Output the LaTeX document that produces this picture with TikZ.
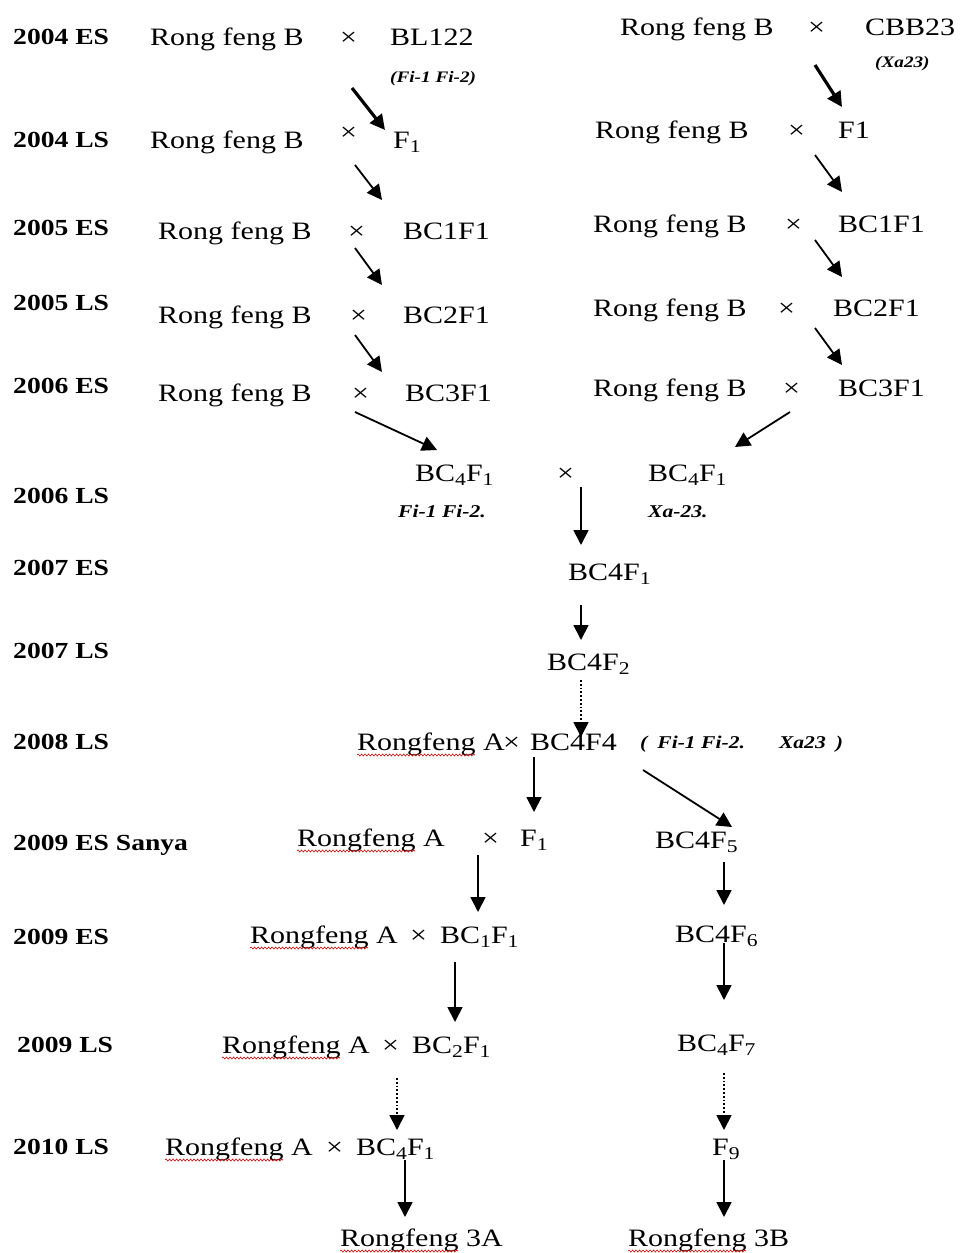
\documentclass[tikz,border=0pt]{standalone}
\usepackage{fontspec}
\setmainfont{Liberation Serif}[FakeStretch=1.2]
\usetikzlibrary{arrows.meta,positioning,decorations.pathmorphing}

\newcommand{\subn}[1]{\raisebox{-0.35ex}{\fontsize{18}{18}\selectfont #1}}

\tikzset{
  yr/.style={font=\fontsize{23}{23}\selectfont\bfseries},
  txt/.style={font=\fontsize{25}{25}\selectfont},
  note/.style={font=\fontsize{16}{16}\selectfont\bfseries\itshape},
  arr/.style={-{Triangle[length=15pt,width=15pt]},line width=1.8pt},
  thk/.style={arr,line width=3.2pt},
  dotarr/.style={arr,dotted,line width=1.8pt},
  wavy/.style={draw=red!80!black,line width=0.6pt,decorate,
    decoration={snake,amplitude=1pt,segment length=3.5pt}}
}

\begin{document}
\begin{tikzpicture}
  [x=1pt,y=-1pt,every node/.style={inner sep=0pt,anchor=base west}]
  \useasboundingbox (0,0) rectangle (977,1253);

  % seasons
  \node[yr] (s1)  at (13,44)   {2004 ES};
  \node[yr] (s2)  at (13,147)  {2004 LS};
  \node[yr] (s3)  at (13,235)  {2005 ES};
  \node[yr] (s4)  at (13,310)  {2005 LS};
  \node[yr] (s5)  at (13,393)  {2006 ES};
  \node[yr] (s6)  at (13,503)  {2006 LS};
  \node[yr] (s7)  at (13,575)  {2007 ES};
  \node[yr] (s8)  at (13,658)  {2007 LS};
  \node[yr] (s9)  at (13,749)  {2008 LS};
  \node[yr] (s10) at (13,850)  {2009 ES Sanya};
  \node[yr] (s11) at (13,944)  {2009 ES};
  \node[yr] (s12) at (17,1052) {2009 LS};
  \node[yr] (s13) at (13,1154) {2010 LS};

  % left backcross line (BL122)
  \node[txt] (l1p) at (150,45)  {Rong feng B};
  \node[txt] (l1x) at (340,45)  {×};
  \node[txt] (l1m) at (390,45)  {BL122};
  \node[note] (l1n) at (390,82) {(Fi-1 Fi-2)};
  \node[txt] (l2p) at (150,148) {Rong feng B};
  \node[txt] (l2x) at (340,140) {×};
  \node[txt] (l2m) at (393,148) {F\subn{1}};
  \node[txt] (l3p) at (158,239) {Rong feng B};
  \node[txt] (l3x) at (348,239) {×};
  \node[txt] (l3m) at (403,239) {BC1F1};
  \node[txt] (l4p) at (158,323) {Rong feng B};
  \node[txt] (l4x) at (350,323) {×};
  \node[txt] (l4m) at (403,323) {BC2F1};
  \node[txt] (l5p) at (158,401) {Rong feng B};
  \node[txt] (l5x) at (352,401) {×};
  \node[txt] (l5m) at (405,401) {BC3F1};

  % right backcross line (CBB23)
  \node[txt] (r1p) at (620,35)  {Rong feng B};
  \node[txt] (r1x) at (808,35)  {×};
  \node[txt] (r1m) at (865,35)  {CBB23};
  \node[note] (r1n) at (875,67) {(Xa23)};
  \node[txt] (r2p) at (595,138) {Rong feng B};
  \node[txt] (r2x) at (788,138) {×};
  \node[txt] (r2m) at (838,138) {F1};
  \node[txt] (r3p) at (593,232) {Rong feng B};
  \node[txt] (r3x) at (785,232) {×};
  \node[txt] (r3m) at (838,232) {BC1F1};
  \node[txt] (r4p) at (593,316) {Rong feng B};
  \node[txt] (r4x) at (778,316) {×};
  \node[txt] (r4m) at (833,316) {BC2F1};
  \node[txt] (r5p) at (593,396) {Rong feng B};
  \node[txt] (r5x) at (783,396) {×};
  \node[txt] (r5m) at (838,396) {BC3F1};

  % pyramiding
  \node[txt] (c1)  at (415,481) {BC\subn{4}F\subn{1}};
  \node[note,font=\fontsize{18}{18}\selectfont\bfseries\itshape] (c1n) at (398,517) {Fi-1 Fi-2.};
  \node[txt] (cx)  at (557,481) {×};
  \node[txt] (c2)  at (648,481) {BC\subn{4}F\subn{1}};
  \node[note,font=\fontsize{18}{18}\selectfont\bfseries\itshape] (c2n) at (648,517) {Xa-23.};
  \node[txt] (p1)  at (568,580) {BC4F\subn{1}};
  \node[txt] (p2)  at (547,670) {BC4F\subn{2}};

  % 2008 cross and later
  \node[txt] (a1)  at (357,750) {Rongfeng A};
  \node[txt] (a1x) at (503,750) {×};
  \node[txt] (a1m) at (530,750) {BC4F4};
  \node[note,font=\fontsize{18}{18}\selectfont\bfseries\itshape] (a1n) at (640,748)
    {(\hspace{10pt}Fi-1 Fi-2.\hspace{34pt}Xa23\hspace{10pt})};
  \node[txt] (a2)  at (297,846) {Rongfeng A};
  \node[txt] (a2x) at (482,846) {×};
  \node[txt] (a2m) at (520,846) {F\subn{1}};
  \node[txt] (a3)  at (250,943) {Rongfeng A};
  \node[txt] (a3x) at (410,943) {×};
  \node[txt] (a3m) at (440,943) {BC\subn{1}F\subn{1}};
  \node[txt] (a4)  at (222,1053) {Rongfeng A};
  \node[txt] (a4x) at (382,1053) {×};
  \node[txt] (a4m) at (412,1053) {BC\subn{2}F\subn{1}};
  \node[txt] (a5)  at (165,1155) {Rongfeng A};
  \node[txt] (a5x) at (326,1155) {×};
  \node[txt] (a5m) at (356,1155) {BC\subn{4}F\subn{1}};
  \node[txt] (a6)  at (340,1246) {Rongfeng 3A};

  \node[txt] (b1)  at (655,848)  {BC4F\subn{5}};
  \node[txt] (b2)  at (675,942)  {BC4F\subn{6}};
  \node[txt] (b3)  at (677,1051) {BC\subn{4}F\subn{7}};
  \node[txt] (b4)  at (712,1155) {F\subn{9}};
  \node[txt] (b5)  at (628,1246) {Rongfeng 3B};

  % spell-check waves
  \foreach \n in {a1,a2,a3,a4,a5,a6,b5}
    \draw[wavy] ([yshift=-5pt]\n.base west) -- ++(118,0);

  % arrow ends
  \coordinate (t1a) at (352,88);  \coordinate (t1b) at (385,130);
  \coordinate (t2a) at (815,65);  \coordinate (t2b) at (842,107);
  \coordinate (e1a) at (355,165); \coordinate (e1b) at (382,200);
  \coordinate (e2a) at (355,248); \coordinate (e2b) at (382,285);
  \coordinate (e3a) at (355,335); \coordinate (e3b) at (382,372);
  \coordinate (e4a) at (355,412); \coordinate (e4b) at (437,450);
  \coordinate (f1a) at (815,155); \coordinate (f1b) at (842,192);
  \coordinate (f2a) at (815,240); \coordinate (f2b) at (842,277);
  \coordinate (f3a) at (815,328); \coordinate (f3b) at (842,365);
  \coordinate (f4a) at (790,412); \coordinate (f4b) at (735,447);
  \coordinate (g1a) at (581,487); \coordinate (g1b) at (581,545);
  \coordinate (g2a) at (581,605); \coordinate (g2b) at (581,640);
  \coordinate (g3a) at (581,680); \coordinate (g3b) at (581,737);
  \coordinate (h1a) at (534,757); \coordinate (h1b) at (534,812);
  \coordinate (h2a) at (643,770); \coordinate (h2b) at (732,827);
  \coordinate (h3a) at (478,855); \coordinate (h3b) at (478,912);
  \coordinate (h4a) at (724,862); \coordinate (h4b) at (724,905);
  \coordinate (h5a) at (455,962); \coordinate (h5b) at (455,1022);
  \coordinate (h6a) at (724,943); \coordinate (h6b) at (724,1000);
  \coordinate (k1a) at (397,1078); \coordinate (k1b) at (397,1130);
  \coordinate (k2a) at (724,1073); \coordinate (k2b) at (724,1130);
  \coordinate (k3a) at (405,1160); \coordinate (k3b) at (405,1217);
  \coordinate (k4a) at (724,1160); \coordinate (k4b) at (724,1217);

  \foreach \from/\to in {t1a/t1b,t2a/t2b}
    \draw[thk] (\from) -- (\to);
  \foreach \from/\to in {e1a/e1b,e2a/e2b,e3a/e3b,e4a/e4b,f1a/f1b,f2a/f2b,f3a/f3b,f4a/f4b,
      g1a/g1b,g2a/g2b,h1a/h1b,h2a/h2b,h3a/h3b,h4a/h4b,h5a/h5b,h6a/h6b,k3a/k3b,k4a/k4b}
    \draw[arr] (\from) -- (\to);
  \foreach \from/\to in {g3a/g3b,k1a/k1b,k2a/k2b}
    \draw[dotarr] (\from) -- (\to);

\end{tikzpicture}
\end{document}
